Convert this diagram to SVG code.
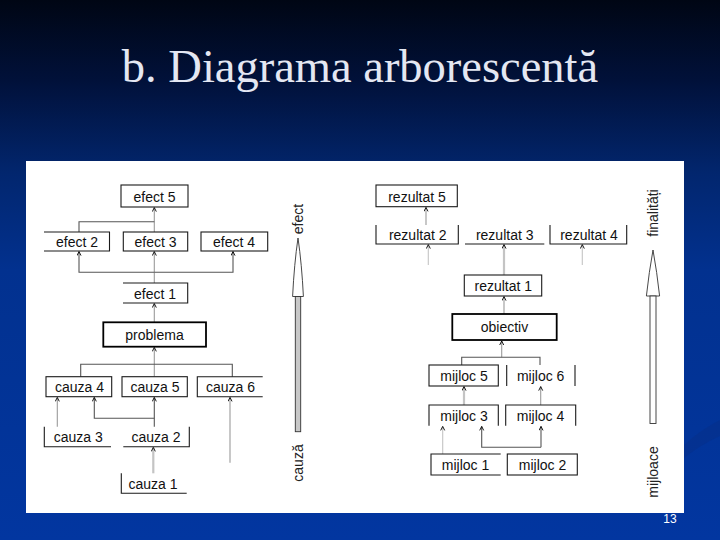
<svg xmlns="http://www.w3.org/2000/svg" width="720" height="540" viewBox="0 0 720 540">
<defs>
<linearGradient id="bg" x1="0" y1="0" x2="0" y2="1">
<stop offset="0" stop-color="#000614"/>
<stop offset="0.15" stop-color="#01113a"/>
<stop offset="0.32" stop-color="#02266e"/>
<stop offset="0.5" stop-color="#02318f"/>
<stop offset="1" stop-color="#0236a0"/>
</linearGradient>
<marker id="ah" markerUnits="userSpaceOnUse" markerWidth="8" markerHeight="8" refX="4.5" refY="2.5" orient="auto">
<path d="M0.5,0.5 L4.5,2.5 L0.5,4.5" fill="none" stroke="#000" stroke-width="0.9"/>
</marker>
<style>
.box{fill:#fff;stroke:#1a1a1a;stroke-width:1.1}
.open{fill:none;stroke:#1a1a1a;stroke-width:1.1}
.bold{fill:#fff;stroke:#000;stroke-width:1.8}
.t{font-family:"Liberation Sans",Arial,sans-serif;font-size:14px;fill:#111;text-anchor:middle}
.side{font-family:"Liberation Sans",Arial,sans-serif;font-size:14px;fill:#222;text-anchor:middle}
.dk{fill:none;stroke:#555;stroke-width:1.1}
.gy{fill:none;stroke:#9a9a9a;stroke-width:1.1}
.lt{fill:none;stroke:#c4c4c4;stroke-width:1.1}
.lth{fill:none;stroke:#c4c4c4;stroke-width:2.2}
</style>
</defs>
<rect x="0" y="0" width="720" height="540" fill="url(#bg)"/>
<path d="M684,445 Q700,430 720,420 L720,436 Q702,444 684,458 Z" fill="#0a2a7e" opacity="0.3"/>
<text x="360" y="82" font-family="'Liberation Serif','Times New Roman',serif" font-size="46.5" fill="#e4e7f2" text-anchor="middle">b. Diagrama arborescentă</text>
<rect x="26" y="161" width="658" height="352" fill="#fff"/>
<text x="670" y="523" font-family="'Liberation Sans',Arial,sans-serif" font-size="12" fill="#fff" text-anchor="middle">13</text>

<g id="connectors">
<path class="gy" d="M154.3,232 V207.6" marker-end="url(#ah)"/>
<path class="dk" d="M79,232 V221.7 H154.3"/>
<path class="gy" d="M154.3,283 V251.6" marker-end="url(#ah)"/>
<path class="dk" d="M154.3,272.3 H79 V251.6" marker-end="url(#ah)"/>
<path class="dk" d="M154.3,272.3 H233 V251.6" marker-end="url(#ah)"/>
<path class="gy" d="M154.3,322.3 V303.6" marker-end="url(#ah)"/>
<path class="gy" d="M154.3,376.7 V347.4" marker-end="url(#ah)"/>
<path class="dk" d="M80.7,376.7 V364.3 H232.3 V376.7"/>
<path class="gy" d="M57.3,426.7 V397.4" marker-end="url(#ah)"/>
<path class="dk" d="M154.3,426.7 V397.4" marker-end="url(#ah)"/>
<path class="dk" d="M154.3,418.3 H94.3 V397.4" marker-end="url(#ah)"/>
<path class="lth" d="M153.3,473.3 V447.4" marker-end="url(#ah)"/>
<path class="gy" d="M230,462.7 V397.4" marker-end="url(#ah)"/>

<path class="gy" d="M426,225 V207.4" marker-end="url(#ah)"/>
<path class="lt" d="M428.3,265 V244.6" marker-end="url(#ah)"/>
<path class="lt" d="M582.3,265 V244.6" marker-end="url(#ah)"/>
<path class="lth" d="M504,275 V244.6" marker-end="url(#ah)"/>
<path class="gy" d="M504,314 V296.6" marker-end="url(#ah)"/>
<path class="gy" d="M501.7,357.3 V341" marker-end="url(#ah)"/>
<path class="dk" d="M461.7,365 V357.3 H540 V365"/>
<path class="lth" d="M464,405 V386.6" marker-end="url(#ah)"/>
<path class="gy" d="M540.7,405 V386.6" marker-end="url(#ah)"/>
<path class="lt" d="M442.7,454 V426.4" marker-end="url(#ah)"/>
<path class="dk" d="M541,447.3 H481.7 V426.4" marker-end="url(#ah)"/>
<path class="dk" d="M541,447.3 V426.4" marker-end="url(#ah)"/>
</g>

<g id="efect5"><rect class="box" x="121" y="185" width="67" height="22"/><text class="t" x="154.5" y="201.5">efect 5</text></g>
<g id="efect2"><path class="open" d="M44,232 H109.5 V251 H44"/><text class="t" x="77" y="246.5">efect 2</text></g>
<g id="efect3"><rect class="box" x="123.3" y="232" width="64.4" height="19"/><text class="t" x="155.5" y="246.5">efect 3</text></g>
<g id="efect4"><rect class="box" x="201" y="232" width="66.7" height="19"/><text class="t" x="234" y="246.5">efect 4</text></g>
<g id="efect1"><path class="open" d="M123,283 H187.7 V303 H123"/><text class="t" x="155" y="298.5">efect 1</text></g>
<g id="problema"><rect class="bold" x="103.3" y="322.3" width="102.7" height="24.4"/><text class="t" x="154.5" y="340">problema</text></g>
<g id="cauza4"><rect class="box" x="46" y="376.7" width="65.7" height="20"/><text class="t" x="79.5" y="392.2">cauza 4</text></g>
<g id="cauza5"><rect class="box" x="122" y="376.7" width="65.3" height="20"/><text class="t" x="155" y="392.2">cauza 5</text></g>
<g id="cauza6"><path class="open" d="M262.7,376.7 H197.3 V396.7 H262.7"/><text class="t" x="230.5" y="392.2">cauza 6</text></g>
<g id="cauza3"><path class="open" d="M44.3,426.7 V446.7 H111"/><text class="t" x="78.3" y="442.2">cauza 3</text></g>
<g id="cauza2"><path class="open" d="M123.3,446.7 H189.3 V426.7"/><text class="t" x="156" y="442.2">cauza 2</text></g>
<g id="cauza1"><path class="open" d="M121.3,473.3 V493.3 H186.7"/><text class="t" x="153" y="488.8">cauza 1</text></g>

<g id="arrow-cauza-efect">
<path d="M298,238 Q294.2,264 292.6,296.5 L303.4,296.5 Q301.8,264 298,238 Z" fill="#fff" stroke="#333" stroke-width="0.9"/>
<rect x="295.3" y="296.5" width="5.4" height="135.2" fill="#c8c8c8" stroke="#333" stroke-width="0.9"/>
<text class="side" transform="translate(303,219) rotate(-90)">efect</text>
<text class="side" transform="translate(303,463) rotate(-90)">cauză</text>
</g>

<g id="rezultat5"><rect class="box" x="376" y="185" width="81.3" height="21.7"/><text class="t" x="417" y="201.5">rezultat 5</text></g>
<g id="rezultat2"><path class="open" d="M376,225 V244 H458.3 V225"/><text class="t" x="417.7" y="239.5">rezultat 2</text></g>
<g id="rezultat3"><path class="open" d="M465,244 H544.3"/><text class="t" x="504.7" y="239.5">rezultat 3</text></g>
<g id="rezultat4"><path class="open" d="M550,225 V244 H626.7 V225"/><text class="t" x="589" y="239.5">rezultat 4</text></g>
<g id="rezultat1"><rect class="box" x="464.3" y="275" width="77.4" height="21"/><text class="t" x="503.3" y="291">rezultat 1</text></g>
<g id="obiectiv"><rect class="bold" x="452.3" y="314" width="104.4" height="26"/><text class="t" x="504.5" y="332">obiectiv</text></g>
<g id="mijloc5"><rect class="box" x="429" y="365" width="69.3" height="21"/><text class="t" x="464" y="381">mijloc 5</text></g>
<g id="mijloc6"><path class="open" d="M506.7,365 V386 M575,365 V386"/><text class="t" x="540.7" y="381">mijloc 6</text></g>
<g id="mijloc3"><path class="open" d="M429,425.7 V405 H498.3 V425.7"/><text class="t" x="464" y="421">mijloc 3</text></g>
<g id="mijloc4"><path class="open" d="M505.7,425.7 V405 H575.7 V425.7"/><text class="t" x="540.5" y="421">mijloc 4</text></g>
<g id="mijloc1"><path class="open" d="M500.7,454 H431 V475 H500.7"/><text class="t" x="465.5" y="470">mijloc 1</text></g>
<g id="mijloc2"><rect class="box" x="507.3" y="454" width="70" height="21"/><text class="t" x="542.5" y="470">mijloc 2</text></g>

<g id="arrow-mijloace-finalitati">
<path d="M653,250 Q649,272 646.4,296 L659.6,296 Q657,272 653,250 Z" fill="#fff" stroke="#333" stroke-width="0.9"/>
<rect x="650" y="296" width="6" height="127.5" fill="#fff" stroke="#333" stroke-width="0.9"/>
<text class="side" transform="translate(658,213) rotate(-90)">finalități</text>
<text class="side" transform="translate(658,472) rotate(-90)">mijloace</text>
</g>
</svg>
